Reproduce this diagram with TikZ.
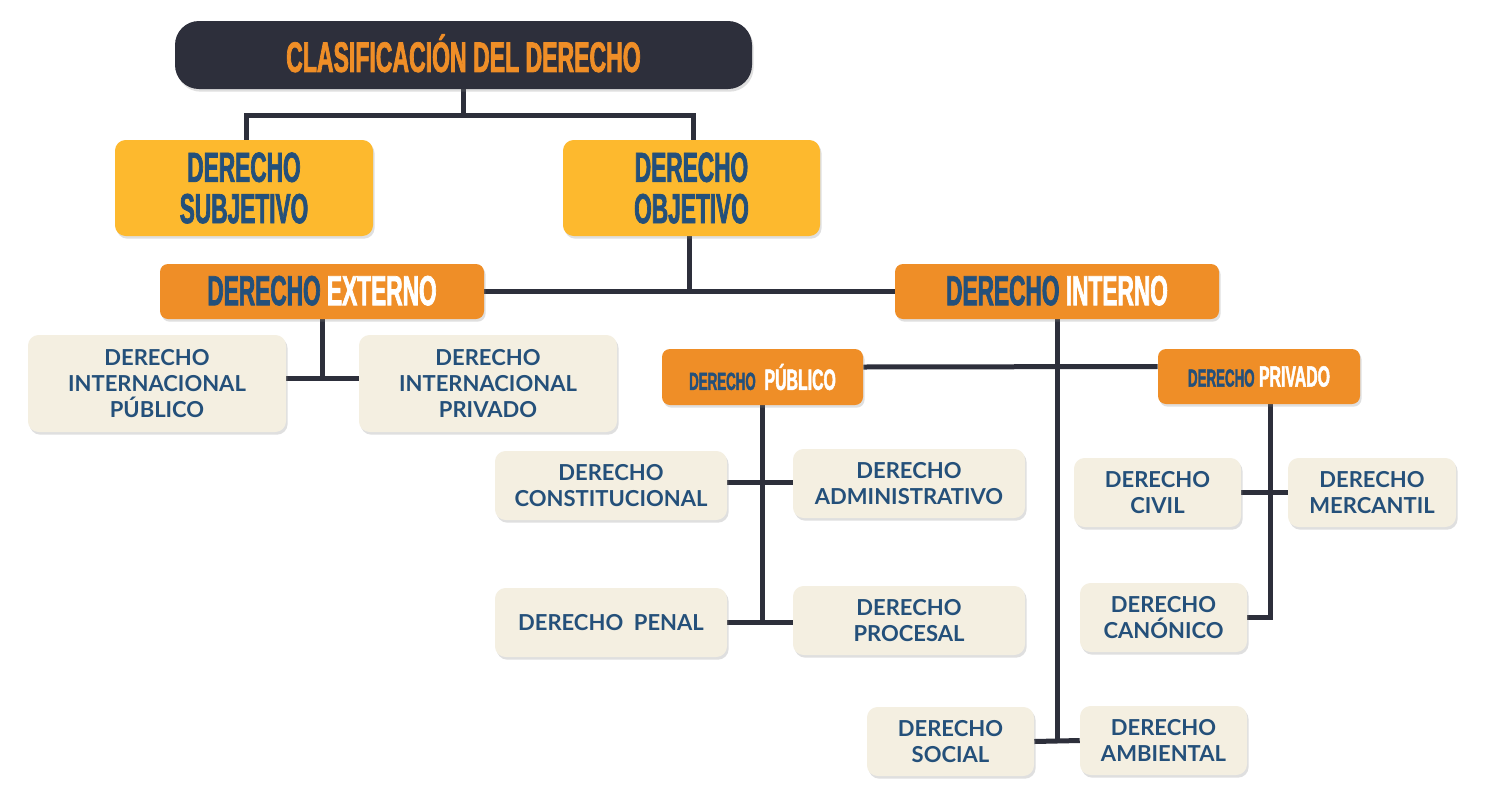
\documentclass[tikz,border=0pt]{standalone}
\usepackage{fontspec}
\setmainfont{Lato}
\newfontfamily\headfont[FakeStretch=0.54,FakeBold=1.6]{Liberation Sans}
\usetikzlibrary{shadows,backgrounds}
\definecolor{darkbg}{HTML}{2D2F3B}
\definecolor{orng}{HTML}{EF8E27}
\definecolor{yell}{HTML}{FDB92E}
\definecolor{cream}{HTML}{F4EFE1}
\definecolor{txtblue}{HTML}{24507A}
\pgfdeclarelayer{bg}
\pgfsetlayers{bg,background,main}
\tikzset{
  wh/.style 2 args={minimum width=#1*0.75pt, minimum height=#2*0.75pt},
  boxbase/.style={inner sep=0pt, align=center, drop shadow={shadow xshift=1.2pt, shadow yshift=-2pt, opacity=0.25}},
  titlebox/.style={boxbase, fill=darkbg, rounded corners=18pt, text=orng, font=\headfont\bfseries\fontsize{32}{33}\selectfont},
  yellbox/.style={boxbase, fill=yell, rounded corners=8pt, text=txtblue, font=\headfont\bfseries\fontsize{31.5}{31}\selectfont},
  orbox/.style={boxbase, fill=orng, rounded corners=6pt, text=white, font=\headfont\bfseries\fontsize{31.5}{31}\selectfont},
  orsmall/.style={boxbase, fill=orng, rounded corners=6pt, text=white, font=\headfont\bfseries\fontsize{22}{22}\selectfont},
  leaf/.style={boxbase, fill=cream, rounded corners=8pt, text=txtblue, font=\bfseries\fontsize{16.5}{19.5}\selectfont},
  conn/.style={draw=darkbg, line width=3.75pt}
}
\begin{document}
\begin{tikzpicture}[x=0.75pt,y=-0.75pt]
\begin{pgfonlayer}{bg}
\fill[white] (0,0) rectangle (1493,793);
\end{pgfonlayer}
\useasboundingbox (0,0) rectangle (1493,793);

\node[titlebox, wh={577}{68}] (title) at (463.5,55) {\raisebox{3pt}{CLASIFICACIÓN DEL DERECHO}};
\node[yellbox, wh={258}{96}] (subj) at (244,188) {DERECHO\\SUBJETIVO};
\node[yellbox, wh={257}{96}] (obj) at (691.5,188) {DERECHO\\OBJETIVO};
\node[orbox, wh={324}{55}] (ext) at (322,291.5) {\raisebox{1.5pt}{{\color{txtblue}DERECHO} EXTERNO}};
\node[orbox, wh={324}{55}] (int) at (1057,291.5) {\raisebox{1.5pt}{{\color{txtblue}DERECHO} INTERNO}};
\node[leaf, wh={258}{97}] (dipu) at (157,383.5) {DERECHO\\INTERNACIONAL\\PÚBLICO};
\node[leaf, wh={258}{97}] (dipr) at (488,383.5) {DERECHO\\INTERNACIONAL\\PRIVADO};
\node[orsmall, wh={201}{56}] (pub) at (762.5,377) {{\color{txtblue}\fontsize{18.5}{19}\selectfont DERECHO}\ \ PÚBLICO};
\node[orsmall, wh={202}{55}] (priv) at (1259,376.5) {{\color{txtblue}\fontsize{18.5}{19}\selectfont DERECHO} PRIVADO};
\node[leaf, wh={232}{69}] (cons) at (611,485.5) {DERECHO\\CONSTITUCIONAL};
\node[leaf, wh={232}{69}] (adm) at (909,483.5) {DERECHO\\ADMINISTRATIVO};
\node[leaf, wh={232}{69}] (pen) at (611,622.5) {DERECHO\ \ PENAL};
\node[leaf, wh={232}{69}] (proc) at (909,620.5) {DERECHO\\PROCESAL};
\node[leaf, wh={167}{69}] (civ) at (1157.5,492.5) {DERECHO\\CIVIL};
\node[leaf, wh={168}{69}] (mer) at (1372,492.5) {DERECHO\\MERCANTIL};
\node[leaf, wh={167}{69}] (can) at (1163.5,617.5) {DERECHO\\CANÓNICO};
\node[leaf, wh={167}{69}] (soc) at (950.5,741.5) {DERECHO\\SOCIAL};
\node[leaf, wh={167}{69}] (amb) at (1163.5,740.5) {DERECHO\\AMBIENTAL};

\begin{pgfonlayer}{background}
\draw[conn] (title.south) -- ++(0,27);
\draw[conn] ([xshift=1.5pt]subj.north) -- ++(0,-24) -| ([xshift=1.5pt]obj.north);
\draw[conn] ([xshift=-1.5pt]obj.south) -- ([xshift=-1.5pt]obj.south |- ext.east);
\draw[conn] (ext.east) -- (int.west);
\draw[conn] (ext.south) -- ++(0,59);
\draw[conn] ([yshift=4pt]dipu.east) -- ([yshift=4pt]dipr.west);
\draw[conn] (int.south) -- (int.south |- soc.east);
\draw[conn] (soc.east) -- (amb.west);
\draw[conn] ([yshift=7.5pt]pub.east) -- ([yshift=7.5pt]priv.west);
\draw[conn] (pub.south) -- (pub.south |- pen.east);
\draw[conn] ([yshift=2pt]cons.east) -- ([yshift=2pt]cons.east -| adm.west);
\draw[conn] (pen.east) -- (pen.east -| proc.west);
\draw[conn] ([xshift=8.25pt]priv.south) |- (can.east);
\draw[conn] (civ.east) -- (mer.west);
\end{pgfonlayer}
\end{tikzpicture}
\end{document}
